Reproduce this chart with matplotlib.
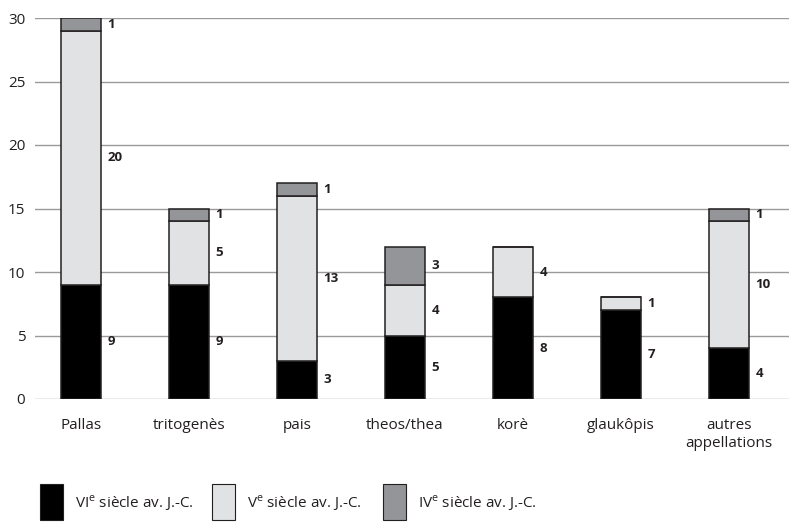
import matplotlib
matplotlib.use("Agg")
import matplotlib.pyplot as plt
import numpy as np
from matplotlib.patches import Rectangle

plt.rcParams["font.family"] = ["Open Sans", "DejaVu Sans"]
plt.rcParams["mathtext.fontset"] = "custom"
plt.rcParams["mathtext.rm"] = "Open Sans"

categories = ["Pallas", "tritogenès", "pais", "theos/thea", "korè", "glaukôpis",
              "autres\nappellations"]
vi_siecle = [9, 9, 3, 5, 8, 7, 4]
v_siecle = [20, 5, 13, 4, 4, 1, 10]
iv_siecle = [1, 1, 1, 3, 0, 0, 1]

series = [vi_siecle, v_siecle, iv_siecle]
colors = ["#000000", "#e1e2e4", "#939598"]
legend_labels = [r"VI$^{\mathrm{e}}$ siècle av. J.-C.",
                 r"V$^{\mathrm{e}}$ siècle av. J.-C.",
                 r"IV$^{\mathrm{e}}$ siècle av. J.-C."]

fig = plt.figure(figsize=(7.89, 5.25), dpi=100)
ax = fig.add_axes([35 / 789, 1 - 399 / 525, 754 / 789, 381 / 525])

x = np.arange(len(categories))
width = 0.37
bottom = np.zeros(len(categories))
for vals, col in zip(series, colors):
    vals = np.array(vals, dtype=float)
    ax.bar(x, vals, width, bottom=bottom, color=col, edgecolor="#231f20",
           linewidth=1.1, zorder=3)
    for xi, b, v in zip(x, bottom, vals):
        if v > 0:
            ax.text(xi + width / 2 + 0.06, b + v / 2, f"{int(v)}", ha="left",
                    va="center", fontsize=9.5, fontweight="bold", color="#231f20")
    bottom += vals

ax.set_xlim(-0.426, 6.556)
ax.set_ylim(0, 30)
ax.set_yticks(range(0, 31, 5))
ax.yaxis.grid(True, color="#9a9a9a", linewidth=1, zorder=0)
ax.set_axisbelow(True)
for s in ax.spines.values():
    s.set_visible(False)
ax.tick_params(axis="both", length=0, labelsize=11, colors="#231f20")
ax.tick_params(axis="y", pad=7)
ax.tick_params(axis="x", pad=14)
ax.set_xticks(x)
ax.set_xticklabels(categories, linespacing=1.2)

# legend
leg_x = [40, 212, 383]
for lx, col, lab in zip(leg_x, colors, legend_labels):
    fig.patches.append(Rectangle((lx / 789, 1 - 520 / 525), 23 / 789, 36 / 525,
                                 transform=fig.transFigure, facecolor=col,
                                 edgecolor="#231f20", linewidth=0.8))
    fig.text((lx + 35) / 789, 1 - 503 / 525, lab, ha="left", va="center",
             fontsize=11, color="#231f20")

fig.savefig("out.png", dpi=100, facecolor="white")
